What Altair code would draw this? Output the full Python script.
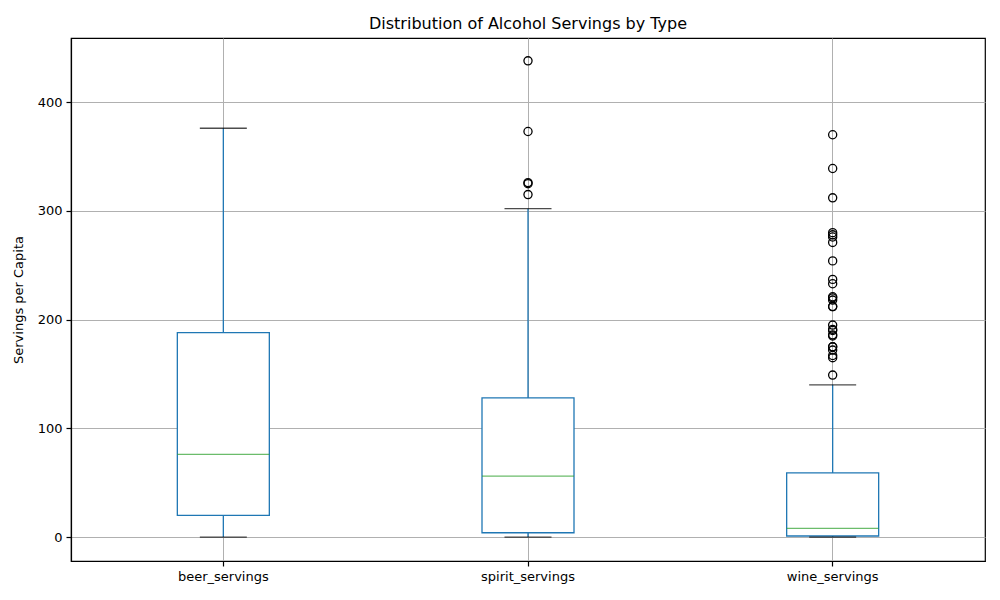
import altair as alt
import pandas as pd

categories = ["beer_servings", "spirit_servings", "wine_servings"]
whisker_low = [0, 0, 0]
q1 = [20, 4, 1]
median = [76, 56, 8]
q3 = [188, 128, 59]
whisker_high = [376, 302, 140]

spirit_outliers = [438, 373, 326, 325, 315]
wine_outliers = [370, 339, 312, 280, 278, 276, 271, 254, 237, 233, 221, 220,
                 218, 212, 212, 195, 191, 190, 186, 185, 175, 175, 172, 167,
                 165, 149]

stats = pd.DataFrame({
    "type": categories,
    "lo": whisker_low,
    "q1": q1,
    "med": median,
    "q3": q3,
    "hi": whisker_high,
})
outl = pd.DataFrame({
    "type": ["spirit_servings"] * len(spirit_outliers) + ["wine_servings"] * len(wine_outliers),
    "value": spirit_outliers + wine_outliers,
})

font = "DejaVu Sans"
blue = "#1f77b4"
lw = 1.3

x = alt.X("type:N", title=None, sort=categories,
          scale=alt.Scale(paddingInner=0, paddingOuter=0),
          axis=alt.Axis(labelAngle=0, bandPosition=0.5, grid=True,
                        gridColor="#b0b0b0", gridWidth=1,
                        tickColor="black", tickSize=5, tickWidth=1.2,
                        domainColor="black", domainWidth=1.2,
                        labelColor="black", labelFont=font, labelFontSize=13,
                        labelPadding=4))
y_scale = alt.Scale(domain=[-22, 459], nice=False, zero=False)
y_axis = alt.Axis(values=[0, 100, 200, 300, 400], grid=True, gridColor="#b0b0b0",
                  gridWidth=1, tickColor="black", tickSize=5, tickWidth=1.2,
                  domainColor="black", domainWidth=1.2,
                  labelColor="black", labelFont=font, labelFontSize=13, labelPadding=4,
                  title="Servings per Capita", titleFont=font, titleFontSize=13,
                  titleFontWeight="normal", titleColor="black", titlePadding=12)

base = alt.Chart(stats)

lower = base.mark_rule(color=blue, strokeWidth=lw).encode(
    x=x, y=alt.Y("lo:Q", scale=y_scale, axis=y_axis), y2="q1:Q")
upper = base.mark_rule(color=blue, strokeWidth=lw).encode(
    x=x, y=alt.Y("q3:Q", scale=y_scale, axis=y_axis), y2="hi:Q")
box = base.mark_bar(size=92, fill="white", stroke=blue, strokeWidth=lw).encode(
    x=x, y=alt.Y("q1:Q", scale=y_scale, axis=y_axis), y2="q3:Q")
med = base.mark_tick(size=92, thickness=lw, color="#2ca02c").encode(
    x=x, y=alt.Y("med:Q", scale=y_scale, axis=y_axis))
cap_lo = base.mark_tick(size=47, thickness=lw, color="black").encode(
    x=x, y=alt.Y("lo:Q", scale=y_scale, axis=y_axis))
cap_hi = base.mark_tick(size=47, thickness=lw, color="black").encode(
    x=x, y=alt.Y("hi:Q", scale=y_scale, axis=y_axis))
pts = alt.Chart(outl).mark_point(shape="circle", size=66, filled=False,
                                 color="black", strokeWidth=1.3, opacity=1).encode(
    x=x, y=alt.Y("value:Q", scale=y_scale, axis=y_axis))

chart = (
    alt.layer(lower, upper, box, med, cap_lo, cap_hi, pts)
    .properties(
        width=914, height=523,
        background="white",
        title=alt.TitleParams("Distribution of Alcohol Servings by Type",
                              font=font, fontSize=16, fontWeight="normal",
                              color="black", offset=6),
        autosize=alt.AutoSizeParams(type="none"),
        padding={"left": 63, "top": 30, "right": 5, "bottom": 30},
    )
    .configure_view(stroke="black", strokeWidth=1.2)
)

chart.save("out.html", embed_options={"renderer": "svg", "actions": False})
